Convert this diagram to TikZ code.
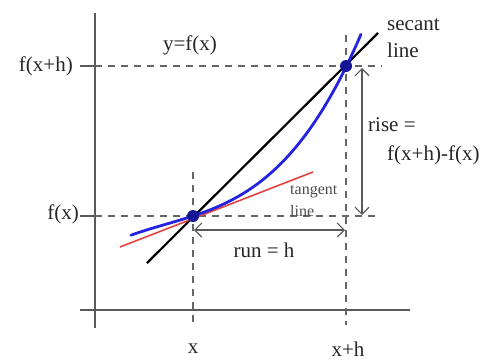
\documentclass[tikz,border=0pt]{standalone}
\usepackage{fontspec}
\setmainfont{Liberation Serif}
\usetikzlibrary{arrows.meta}
\definecolor{curveblue}{RGB}{35,35,225}
\definecolor{tanred}{RGB}{225,65,65}
\definecolor{dotblue}{RGB}{20,20,150}
\begin{document}
\begin{tikzpicture}[x=1pt,y=-1pt,
  axis/.style={draw=black!65, line width=1.3pt},
  guide/.style={draw=black!60, line width=1.2pt, dash pattern=on 7pt off 6pt},
  lbl/.style={font=\fontsize{21}{23}\selectfont, inner sep=0pt, text=black!85},
  smalllbl/.style={font=\fontsize{16}{17}\selectfont, inner sep=0pt, text=black!70},
  dot/.style={circle, fill=dotblue, inner sep=0pt, minimum size=12pt},
  meas/.style={draw=black!65, line width=1.1pt,
    {Straight Barb[length=7pt,width=14pt]}-{Straight Barb[length=7pt,width=14pt]}}]
\useasboundingbox (0,0) rectangle (487,362);
% axes
\coordinate (ytop) at (95,13);
\coordinate (ybot) at (95,328);
\coordinate (xl) at (80,310);
\coordinate (xr) at (410,310);
\draw[axis] (ybot) -- (ytop);
\draw[axis] (xl) -- (xr);
% guide lines
\coordinate (P) at (193,216);
\coordinate (Q) at (346,66);
\coordinate (hq0) at (80,66);
\coordinate (hq1) at (95,66);
\coordinate (hq2) at (382,66);
\coordinate (hp0) at (80,216);
\coordinate (hp1) at (95,216);
\coordinate (hp2) at (378,216);
\coordinate (vp1) at (193,172);
\coordinate (vp2) at (193,325);
\coordinate (vq1) at (346,35);
\coordinate (vq2) at (346,325);
\draw[axis, line width=1.2pt] (hq0) -- (hq1);
\draw[axis, line width=1.2pt] (hp0) -- (hp1);
\draw[guide] (hq1) -- (hq2);
\draw[guide] (hp1) -- (hp2);
\draw[guide] (vp1) -- (vp2);
\draw[guide] (vq1) -- (vq2);
% secant line
\coordinate (S1) at (147,263);
\coordinate (S2) at (378,33);
\draw[black, line width=2.2pt] (S1) -- (S2);
% tangent line
\coordinate (T1) at (120,247);
\coordinate (T2) at (313,172);
\draw[tanred, line width=1.6pt] (T1) -- (T2);
% curve y = f(x)
\draw[curveblue, line width=2.8pt, line cap=round]
  plot[domain=-0.62:1.68, samples=60, smooth, variable=\w]
  ({193+100*\w}, {216-(33*\w+14.54*\w*\w+18.0*\w*\w*\w)});
% points
\node[dot] (Pdot) at (P) {};
\node[dot] (Qdot) at (Q) {};
% measurement arrows
\coordinate (R1) at (362,68);
\coordinate (R2) at (362,215);
\draw[meas] (R2) -- (R1);
\coordinate (U1) at (194,230);
\coordinate (U2) at (345,230);
\draw[meas] (U1) -- (U2);
% labels
\node[lbl] (yfx) at (190,45) {y=f(x)};
\node[lbl, anchor=east] (lfxh) at (73,66) {f(x+h)};
\node[lbl, anchor=east] (lfx) at (79,214) {f(x)};
\node[lbl, anchor=west] (sec1) at (387,25) {secant};
\node[lbl, anchor=west] (sec2) at (387,50) {line};
\node[lbl, anchor=west] (rise1) at (368,125) {rise =};
\node[lbl, anchor=west] (rise2) at (387,155) {f(x+h)-f(x)};
\node[lbl] (run) at (264,250) {run = h};
\node[smalllbl, anchor=west] (tan1) at (290,192) {tangent};
\node[smalllbl, anchor=west] (tan2) at (290,211) {line};
\node[lbl] (xlab) at (193,349) {x};
\node[lbl] (xhlab) at (348,349) {x+h};
\end{tikzpicture}
\end{document}
